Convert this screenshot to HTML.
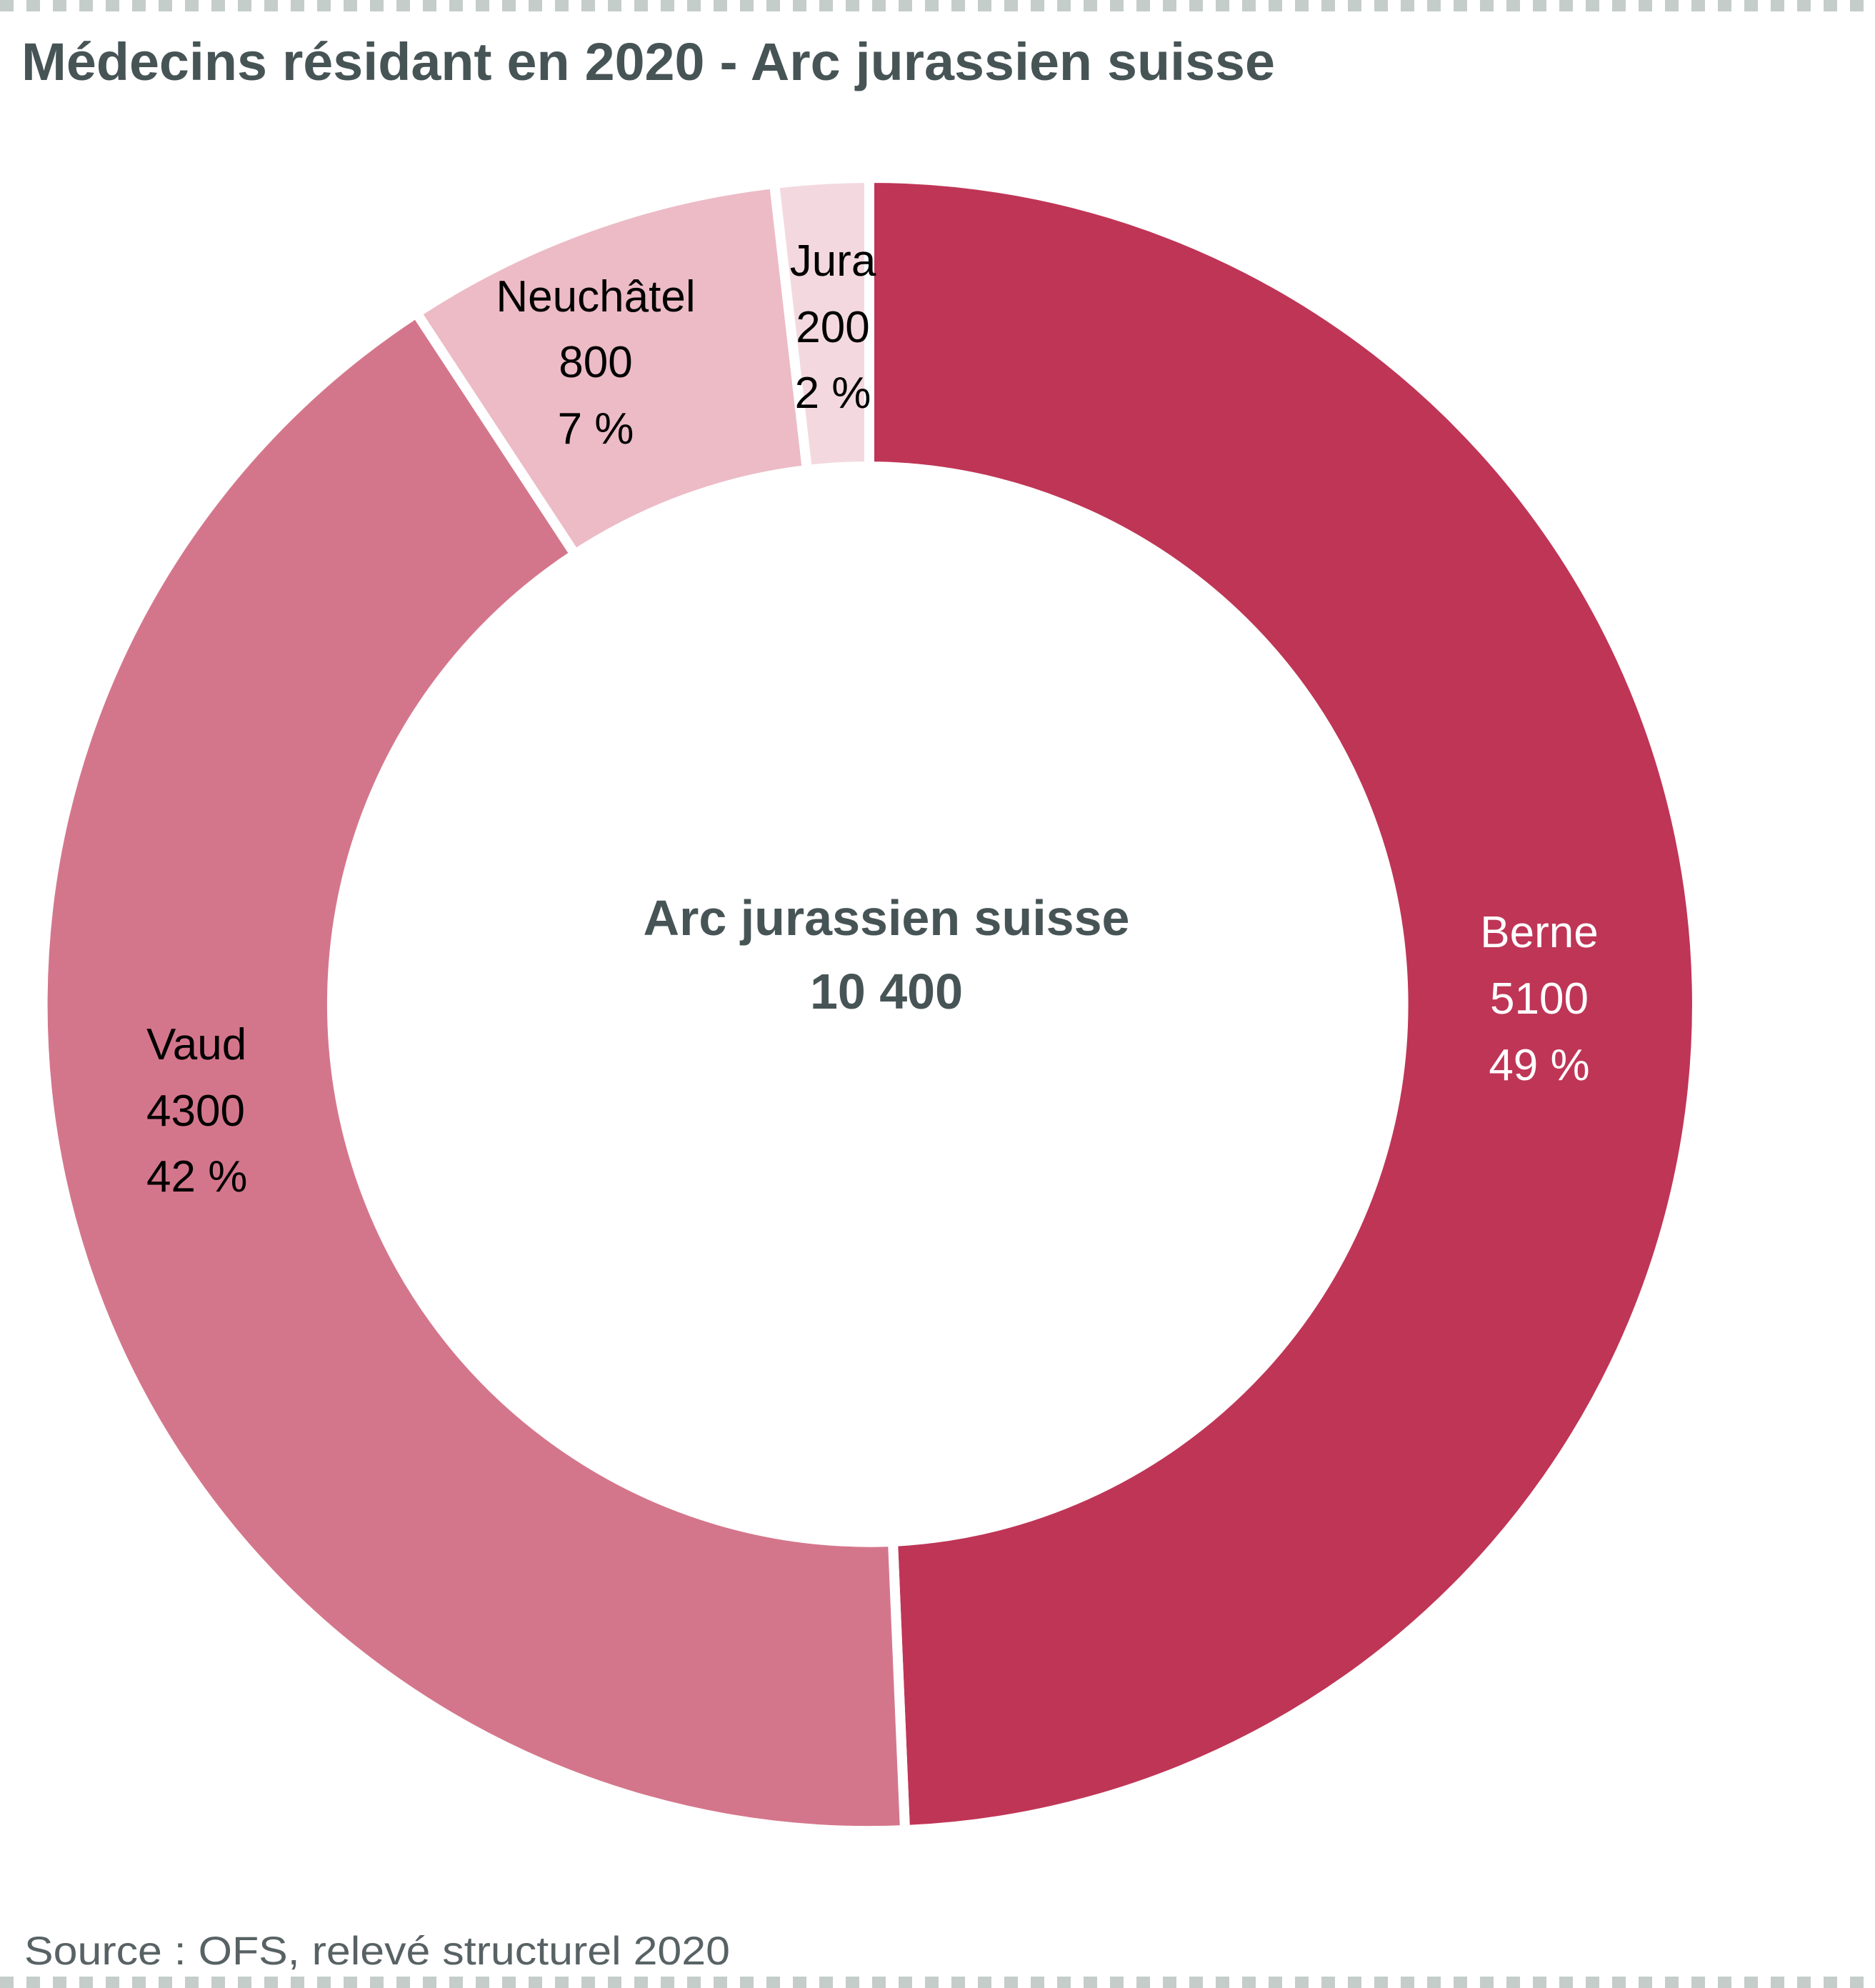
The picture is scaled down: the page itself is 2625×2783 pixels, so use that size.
<!DOCTYPE html>
<html><head><meta charset="utf-8"><style>
html,body{margin:0;padding:0;background:#fff;}
svg{display:block;}
</style></head><body>
<svg width="2625" height="2783" viewBox="0 0 2625 2783" xmlns="http://www.w3.org/2000/svg">
<line x1="0" y1="8" x2="2625" y2="8" stroke="#C5CDCA" stroke-width="16" stroke-dasharray="19 18"/>
<line x1="0" y1="2775" x2="2625" y2="2775" stroke="#C5CDCA" stroke-width="16" stroke-dasharray="19 18"/>
<text x="30" y="112" font-family="Liberation Sans, sans-serif" font-weight="bold" font-size="74" fill="#475456" textLength="1755" lengthAdjust="spacingAndGlyphs">Médecins résidant en 2020 - Arc jurassien suisse</text>
<g transform="translate(-5,-4)">
<g stroke="#fff" stroke-width="14" stroke-linejoin="miter">
<path d="M1222,253 A1157,1157 0 0 1 1272,2566 L1255,2162 A753,753 0 0 0 1222,657 Z" fill="#BF3556"/>
<path d="M1272,2566 A1157,1157 0 0 1 588,442 L810,780 A753,753 0 0 0 1255,2162 Z" fill="#D4768B"/>
<path d="M588,442 A1157,1157 0 0 1 1089,261 L1135,662 A753,753 0 0 0 810,780 Z" fill="#ECBBC6"/>
<path d="M1089,261 A1157,1157 0 0 1 1222,253 L1222,657 A753,753 0 0 0 1135,662 Z" fill="#F3D9DF"/>
</g>
</g>
<g font-family="Liberation Sans, sans-serif" font-size="62">
<g fill="#fff" text-anchor="middle"><text x="2155" y="1326">Berne</text><text x="2155" y="1419">5100</text><text x="2155" y="1512">49 %</text></g>
<g fill="#000"><text x="205" y="1483">Vaud</text><text x="205" y="1576">4300</text><text x="205" y="1668">42 %</text></g>
<g fill="#000" text-anchor="middle"><text x="834" y="436">Neuchâtel</text><text x="834" y="528">800</text><text x="834" y="621">7 %</text></g>
<g fill="#000" text-anchor="middle"><text x="1166" y="386">Jura</text><text x="1166" y="479">200</text><text x="1166" y="571">2 %</text></g>
</g>
<g font-family="Liberation Sans, sans-serif" font-weight="bold" font-size="70" fill="#475456" text-anchor="middle">
<text x="1241" y="1309">Arc jurassien suisse</text>
<text x="1241" y="1412">10 400</text>
</g>
<text x="34" y="2750" font-family="Liberation Sans, sans-serif" font-size="56" fill="#586264" textLength="988" lengthAdjust="spacingAndGlyphs">Source : OFS, relevé structurel 2020</text>
</svg>
</body></html>
